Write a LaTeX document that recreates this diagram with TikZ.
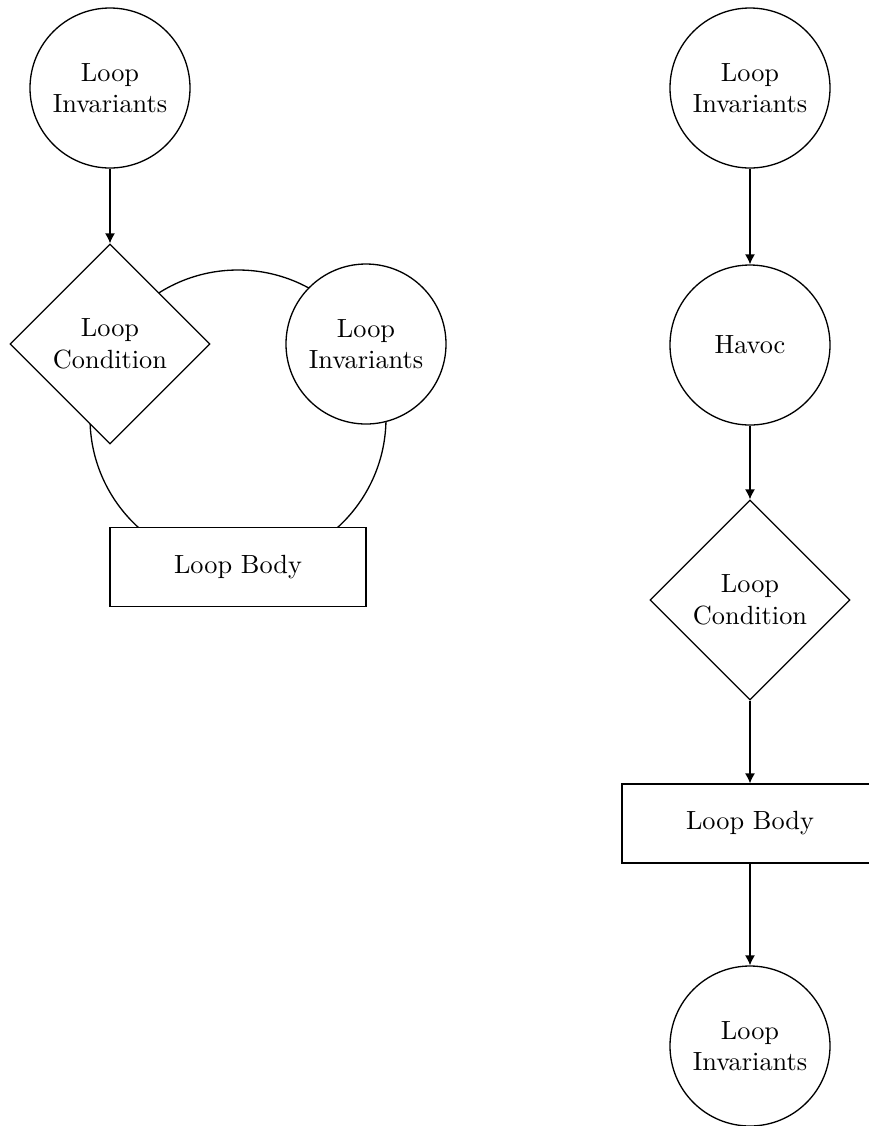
\documentclass[tikz,border=0pt]{standalone}
\usetikzlibrary{shapes.geometric,arrows.meta}
\begin{document}
\begin{tikzpicture}[x=0.38pt,y=-0.38pt,
  base/.style={draw, fill=white, line width=0.5pt, align=center, inner sep=0pt},
  inv/.style={base, circle, minimum size=60.8pt},
  cond/.style={base, diamond, minimum width=76pt, minimum height=76pt},
  body/.style={base, rectangle, minimum width=97.3pt, minimum height=30pt},
  flow/.style={-{Latex[length=3.8pt,width=3.8pt]}, line width=0.5pt}]
\clip (0,0) rectangle (869,1126);
% left diagram
\coordinate (loopc) at (238,418);
\draw[line width=0.5pt] (loopc) circle[radius=148];
\node[inv]  (linvtop) at (110,88)  {Loop\\Invariants};
\node[cond] (lcond)   at (110,344) {Loop\\Condition};
\node[inv]  (linvr)   at (366,344) {Loop\\Invariants};
\node[body] (lbody)   at (238,567) {Loop Body};
\draw[flow] (linvtop) -- (lcond);
% right diagram
\node[inv]  (rinvtop) at (750,88)   {Loop\\Invariants};
\node[inv]  (havoc)   at (750,345)  {Havoc};
\node[cond] (rcond)   at (750,600)  {Loop\\Condition};
\node[body] (rbody)   at (750,823.5) {Loop Body};
\node[inv]  (rinvbot) at (750,1046) {Loop\\Invariants};
\draw[flow] (rinvtop) -- (havoc);
\draw[flow] (havoc) -- (rcond);
\draw[flow] (rcond) -- (rbody);
\draw[flow] (rbody) -- (rinvbot);
\end{tikzpicture}
\end{document}
